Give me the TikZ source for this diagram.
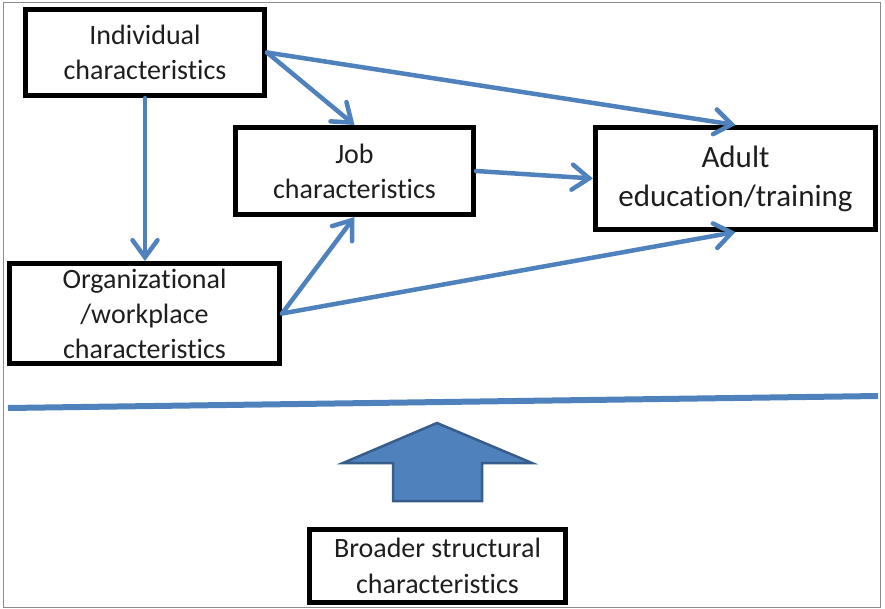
\documentclass[tikz,border=0pt]{standalone}
\usepackage{fontspec}
\setmainfont{Carlito}[Ligatures={NoCommon}]
\usetikzlibrary{arrows.meta}
\definecolor{oblue}{RGB}{79,129,189}
\definecolor{obluedark}{RGB}{56,93,138}
\definecolor{framegray}{RGB}{140,140,140}
\definecolor{textgray}{RGB}{30,30,30}
\begin{document}
\begin{tikzpicture}[x=1pt,y=-1pt,
  box/.style={draw=black, line width=5pt, rectangle, align=center, inner sep=0pt,
    text=textgray, font=\fontsize{28}{35}\selectfont},
  link/.style={draw=oblue, line width=4.5pt, line cap=round,
    -{Straight Barb[length=17pt,width=25pt,line cap=round]}}]
\useasboundingbox (0,0) rectangle (885,608);
\draw[framegray, line width=1pt] (3,2) rectangle (880,607);

\node[box, minimum width=239pt, minimum height=86pt] (ind) at (145,52.5)
  {Individual\\characteristics};
\node[box, minimum width=238pt, minimum height=87pt] (job) at (354.5,171)
  {Job\\characteristics};
\node[box, minimum width=280pt, minimum height=102pt,
  font=\fontsize{31}{39}\selectfont] (adult) at (735.5,178.5)
  {Adult\\education/training};
\node[box, minimum width=270pt, minimum height=100pt] (org) at (144.5,313.5)
  {Organizational\\/workplace\\characteristics};
\node[box, minimum width=256pt, minimum height=73pt, font=\fontsize{28}{36}\selectfont] (broad) at (437.5,566)
  {Broader structural\\characteristics};

\draw[link] (ind.south) -- (ind.south |- org.north);
\draw[link] (ind.east) -- (job.north);
\draw[link] (ind.east) -- (adult.north);
\draw[link] (job.east) -- (adult.west);
\draw[link] (org.east) -- (job.south);
\draw[link] (org.east) -- (adult.south);

\coordinate (divl) at (8,408);
\coordinate (divr) at (878,396);
\draw[oblue, line width=6pt] (divl) -- (divr);

\draw[fill=oblue, draw=obluedark, line width=2.5pt, line join=miter]
  (437,423) -- (532,463) -- (482,463) -- (482,501) -- (393,501) -- (393,463)
  -- (343,463) -- cycle;
\end{tikzpicture}
\end{document}
